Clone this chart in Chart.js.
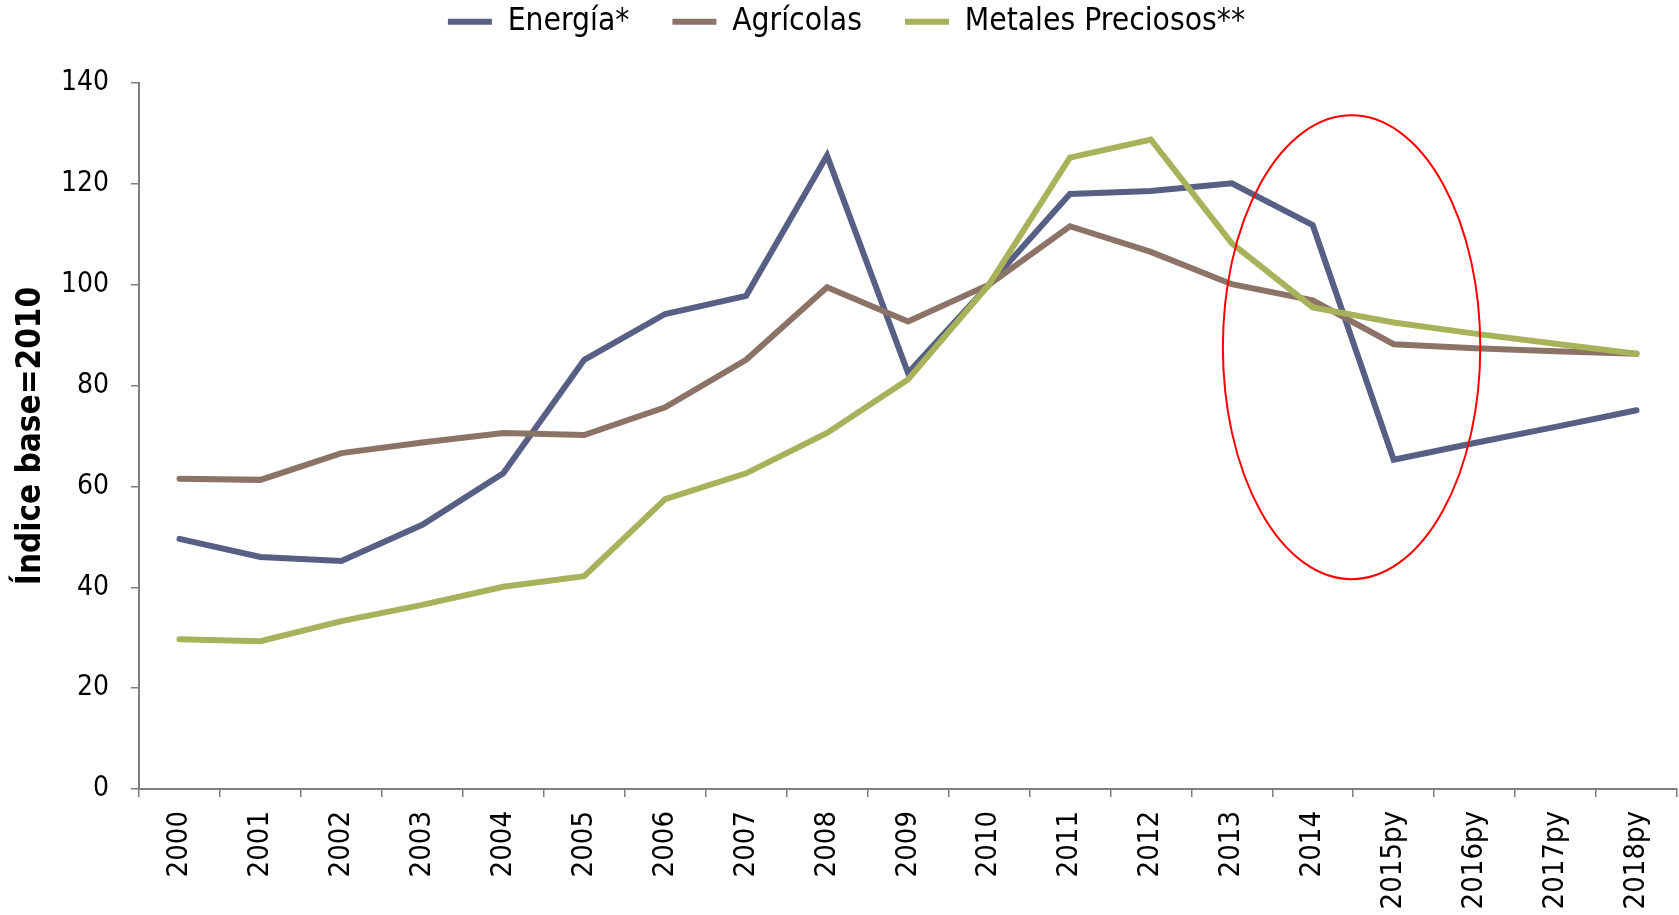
<!DOCTYPE html>
<html>
<head>
<meta charset="utf-8">
<script src="https://cdn.jsdelivr.net/npm/chart.js@4.4.1/dist/chart.umd.min.js"></script>
<style>
  html, body { margin: 0; padding: 0; background: #ffffff; }
  #wrap { position: relative; width: 1679px; height: 915px; }
</style>
</head>
<body>
<div id="wrap"><canvas id="c" width="1679" height="915"></canvas></div>
<script>
const categories = ['2000','2001','2002','2003','2004','2005','2006','2007','2008','2009','2010','2011','2012','2013','2014','2015py','2016py','2017py','2018py'];
const energia = [49.6, 46.0, 45.2, 52.4, 62.6, 85.1, 94.2, 97.8, 125.6, 82.5, 100.0, 118.0, 118.6, 120.1, 111.8, 65.3, 68.6, 71.8, 75.1];
const agricolas = [61.5, 61.3, 66.6, 68.7, 70.6, 70.2, 75.7, 85.1, 99.5, 92.7, 100.0, 111.6, 106.5, 100.1, 96.9, 88.2, 87.4, 86.8, 86.3];
const metales = [29.7, 29.3, 33.3, 36.5, 40.1, 42.2, 57.5, 62.6, 70.6, 81.2, 100.0, 125.2, 128.8, 108.2, 95.5, 92.5, 90.3, 88.3, 86.3];
const seriesNames = ['Energía*', 'Agrícolas', 'Metales Preciosos**'];
const yTicks = [0, 20, 40, 60, 80, 100, 120, 140];
const yTitle = 'Índice base=2010';
// highlight ellipse in data units: [centre category index, centre value, half-width in categories, half-height in value]
const highlight = [14.48, 87.6, 1.59, 46.0];

const COLORS = ['#575f84', '#8c7367', '#a8b25a'];
const narrow = '"DejaVu Sans Condensed", "Liberation Sans Narrow", "DejaVu Sans", sans-serif';

const ellipsePlugin = {
  id: 'ellipse',
  afterDatasetsDraw(chart) {
    const x = chart.scales.x, y = chart.scales.y;
    const cx = x.getPixelForValue(highlight[0]);
    const cy = y.getPixelForValue(highlight[1]);
    const rx = Math.abs(x.getPixelForValue(highlight[0] + highlight[2]) - cx);
    const ry = Math.abs(y.getPixelForValue(highlight[1] + highlight[3]) - cy);
    const ctx = chart.ctx;
    ctx.save();
    ctx.beginPath();
    ctx.ellipse(cx, cy, rx, ry, 0, 0, Math.PI * 2);
    ctx.strokeStyle = '#ff0000';
    ctx.lineWidth = 2;
    ctx.stroke();
    ctx.restore();
  }
};

const legendFitPlugin = {
  id: 'legendFit',
  afterInit(chart) {
    const lg = chart.legend;
    const f = lg.fit;
    lg.fit = function () { f.call(this); this.height = 120; };
    const d = lg.draw;
    lg.draw = function () { this.ctx.save(); this.ctx.translate(8, 0); d.call(this); this.ctx.restore(); };
  }
};

function ds(label, data, color, order) {
  return {
    label, data,
    borderColor: color, backgroundColor: color,
    borderWidth: 6, pointRadius: 0, pointHoverRadius: 0,
    borderCapStyle: 'round', borderJoinStyle: 'miter',
    tension: 0, fill: false, order
  };
}

new Chart(document.getElementById('c'), {
  type: 'line',
  data: {
    labels: categories,
    datasets: [
      ds(seriesNames[0], energia, COLORS[0], 2),
      ds(seriesNames[1], agricolas, COLORS[1], 1),
      ds(seriesNames[2], metales, COLORS[2], 0)
    ]
  },
  plugins: [ellipsePlugin, legendFitPlugin],
  options: {
    responsive: false,
    animation: false,
    devicePixelRatio: 1,
    layout: { padding: { top: -37, left: 0, right: 2, bottom: 0 } },
    plugins: {
      tooltip: { enabled: false },
      legend: {
        position: 'top',
        align: 'center',
        labels: {
          boxWidth: 44, boxHeight: 6, padding: 43, color: '#000',
          font: { family: narrow, size: 31.5 },
          generateLabels(chart) {
            const items = Chart.defaults.plugins.legend.labels.generateLabels(chart);
            items.forEach(i => { i.lineWidth = 0; i.fillStyle = i.strokeStyle; });
            return items.sort((a, b) => a.datasetIndex - b.datasetIndex);
          }
        }
      }
    },
    scales: {
      x: {
        type: 'category',
        offset: true,
        afterFit(s) { s.height = 126; s.paddingLeft = 0; s.paddingRight = 0; },
        grid: { offset: true, drawOnChartArea: false, drawTicks: true, tickLength: 8, color: '#7f7f7f', lineWidth: 1.5 },
        border: { display: true, color: '#7f7f7f', width: 2 },
        ticks: { minRotation: 90, maxRotation: 90, autoSkip: false, padding: 14, color: '#000', font: { family: narrow, size: 29 } }
      },
      y: {
        min: 0, max: 140,
        afterFit(s) { s.width = 139; },
        afterBuildTicks(s) { s.ticks = yTicks.map(v => ({ value: v })); },
        grid: { drawOnChartArea: false, drawTicks: true, tickLength: 8, color: '#7f7f7f', lineWidth: 1.5 },
        border: { display: true, color: '#7f7f7f', width: 2 },
        ticks: { padding: 22, color: '#000', font: { family: narrow, size: 28 } },
        title: { display: true, text: yTitle, color: '#000', padding: { top: 12, bottom: 0 }, font: { family: narrow, size: 33, weight: 'bold' } }
      }
    }
  }
});
</script>
</body>
</html>
